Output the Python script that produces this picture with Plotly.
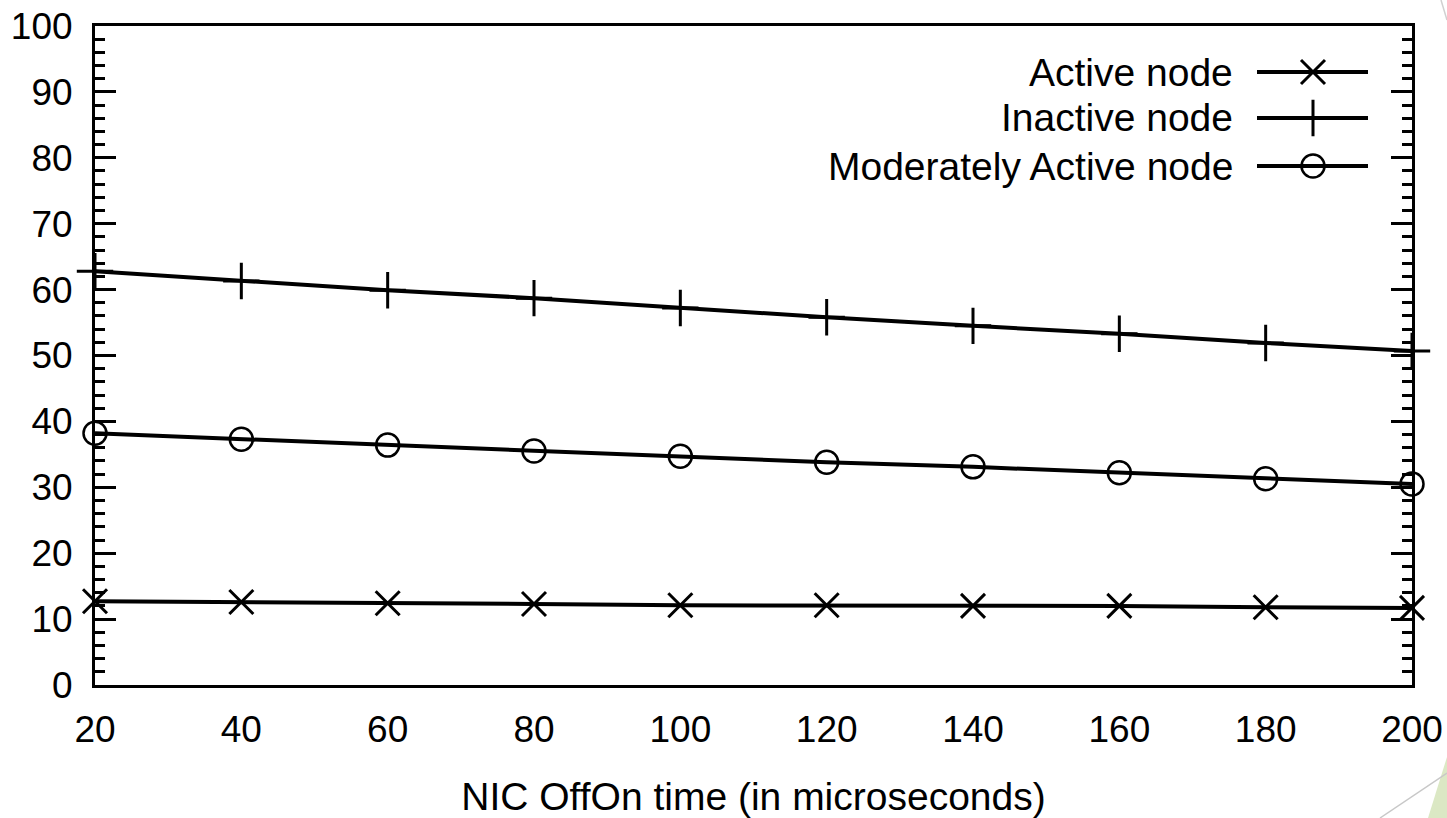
import plotly.graph_objects as go

# ---------------- data ----------------
x_vals = [20, 40, 60, 80, 100, 120, 140, 160, 180, 200]
active = [12.7, 12.6, 12.4, 12.3, 12.1, 12.1, 12.0, 12.0, 11.8, 11.7]
inactive = [62.8, 61.3, 59.9, 58.7, 57.2, 55.8, 54.5, 53.3, 51.9, 50.7]
moderate = [38.2, 37.3, 36.4, 35.5, 34.7, 33.8, 33.1, 32.2, 31.3, 30.5]
series_names = ["Active node", "Inactive node", "Moderately Active node"]
x_ticks = [20, 40, 60, 80, 100, 120, 140, 160, 180, 200]
y_ticks = [0, 10, 20, 30, 40, 50, 60, 70, 80, 90, 100]
x_title = "NIC OffOn time (in microseconds)"

# ---------------- layout constants ----------------
W, H = 1447, 818
L, R, T, B = 95, 1412, 26, 685
FONT = "Liberation Sans, Arial, sans-serif"
FS_TICK = 37
FS_TEXT = 39


def px(xp):
    return (xp - L) / (R - L)


def py(yp):
    return (B - yp) / (B - T)


symbols = ["x-thin-open", "cross-thin-open", "circle-open"]
sizes = [24, 26, 23]
mlw = [3, 3, 2.5]
series = [active, inactive, moderate]

fig = go.Figure()
for name, ys, sym, sz, lw in zip(series_names, series, symbols, sizes, mlw):
    fig.add_trace(go.Scatter(
        x=x_vals, y=ys, mode="lines+markers", name=name,
        line=dict(color="black", width=4),
        marker=dict(symbol=sym, size=sz, color="black",
                    line=dict(color="black", width=lw)),
        cliponaxis=False, showlegend=False,
    ))

# custom legend (sample to the right of right-aligned text)
leg_y = [py(72), py(118), py(166)]
leg_x0, leg_x1, leg_xm = px(1257), px(1368), px(1313)
for name, sym, sz, lw, ly in zip(series_names, symbols, sizes, mlw, leg_y):
    fig.add_trace(go.Scatter(
        x=[leg_x0, leg_x1], y=[ly, ly], mode="lines",
        line=dict(color="black", width=4), xaxis="x2", yaxis="y2",
        showlegend=False, hoverinfo="skip", cliponaxis=False,
    ))
    fig.add_trace(go.Scatter(
        x=[leg_xm], y=[ly], mode="markers",
        marker=dict(symbol=sym, size=sz, color="black",
                    line=dict(color="black", width=lw)),
        xaxis="x2", yaxis="y2", showlegend=False, hoverinfo="skip", cliponaxis=False,
    ))
    fig.add_annotation(
        x=px(1235), y=ly, xref="paper", yref="paper", text=name,
        showarrow=False, xanchor="right", yanchor="middle",
        font=dict(family=FONT, size=FS_TEXT, color="black"),
    )

fig.update_layout(
    width=W, height=H,
    margin=dict(l=L, r=W - R, t=T, b=H - B, pad=0, autoexpand=False),
    paper_bgcolor="white", plot_bgcolor="white",
    font=dict(family=FONT, size=FS_TICK, color="black"),
    xaxis=dict(
        range=[20, 200], tickvals=x_ticks, ticks="", showgrid=False,
        zeroline=False, showline=True, linecolor="black", linewidth=3,
        mirror=True, ticklabelstandoff=10, automargin=False,
        tickfont=dict(size=FS_TICK),
        title=dict(text=x_title, standoff=40, font=dict(size=FS_TEXT)),
    ),
    yaxis=dict(
        range=[0, 100], tickvals=y_ticks, ticks="inside", ticklen=21,
        tickwidth=3, tickcolor="black", showgrid=False, zeroline=False,
        showline=True, linecolor="black", linewidth=3, mirror="allticks",
        ticklabelstandoff=12, automargin=False,
        tickfont=dict(size=FS_TICK),
        minor=dict(dtick=2, ticks="inside", ticklen=10, tickwidth=3,
                   tickcolor="black", showgrid=False),
    ),
    xaxis2=dict(range=[0, 1], overlaying="x", visible=False, fixedrange=True),
    yaxis2=dict(range=[0, 1], overlaying="y", visible=False, fixedrange=True),
    showlegend=False,
)

# slide decorations in bottom-right / top-right corners
fig.add_shape(type="path", xref="paper", yref="paper",
              path=f"M {px(1428)} {py(818)} L {px(1447)} {py(757)} L {px(1447)} {py(818)} Z",
              fillcolor="#dbe8c4", line=dict(width=0), layer="below")
fig.add_shape(type="line", xref="paper", yref="paper",
              x0=px(1380), y0=py(818), x1=px(1447), y1=py(773),
              line=dict(color="#c8c8c8", width=1.5))
fig.add_shape(type="line", xref="paper", yref="paper",
              x0=px(1441), y0=py(0), x1=px(1447), y1=py(20),
              line=dict(color="#d0d0d0", width=1.5))

fig.write_html(
    "out.html",
    config={"displayModeBar": False},
    post_script="document.body.style.margin='0';document.body.style.overflow='hidden';",
)
